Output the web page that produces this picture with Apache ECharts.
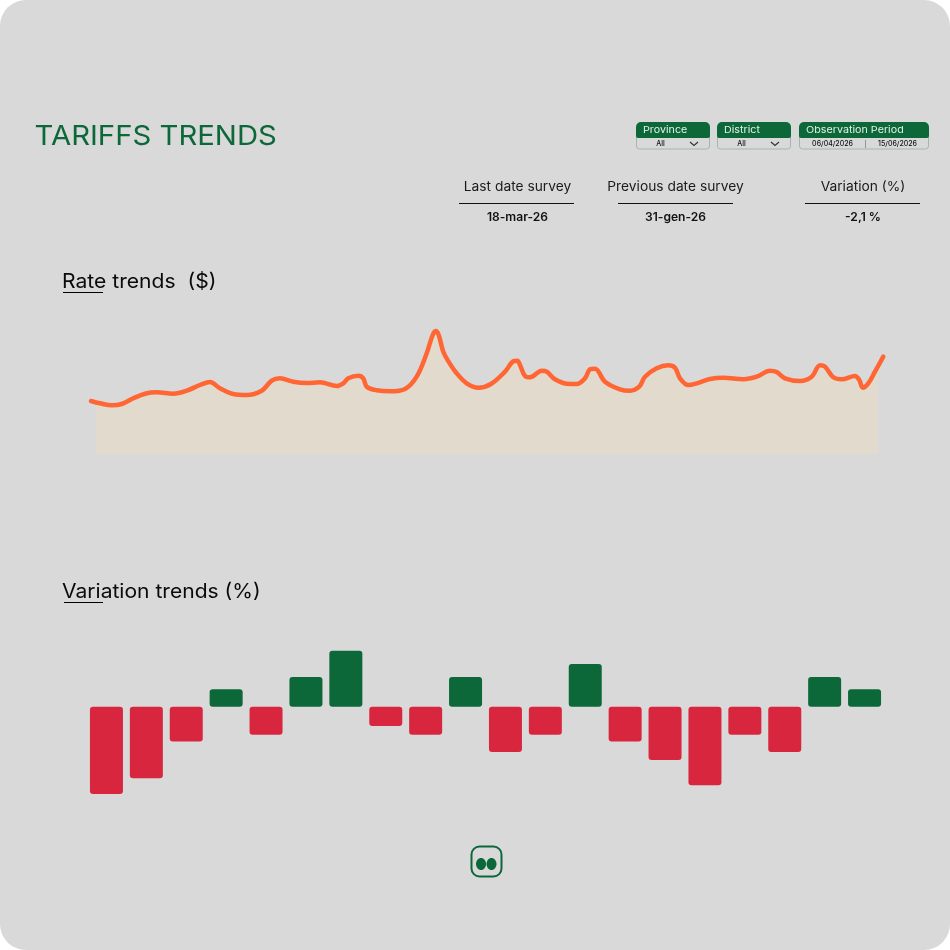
<!DOCTYPE html>
<html>
<head>
<meta charset="utf-8">
<style>html,body{margin:0;padding:0;background:#fff}#chart{width:950px;height:950px}</style>
<script src="https://cdn.jsdelivr.net/npm/echarts@6/dist/echarts.min.js"></script>
</head>
<body>
<div id="chart"></div>
<script>
// Rate trend: position along the time axis, and level above the baseline
const ratePositions = [1,10,22,31.7,43.3,55,66.7,83.3,96.7,110,120,130,143.3,156.7,171.7,181.7,190,203.3,216.7,230,246.7,253.3,258.3,268.3,273.3,276.7,286.7,300,315,326.7,336.7,342.7,346,348.7,353.3,358,366,376.7,388.3,401,415,423.3,427.3,430.7,435,440,451.7,456.7,465,476.7,486.7,495,500,505,515,530,540,549.3,555,566.7,578.3,585,590,598.3,606.7,620,633.3,653.3,666.7,680,686.7,695,710,721.7,730,735,743.3,751.7,765,769.3,772.7,778.3,785,793.3];
const rateLevels = [53,50.7,48.7,50,55.7,60.3,61.7,60.3,63.3,69,72,65.7,60,59,63.3,73.3,75.7,72.3,71,71.7,68,70.7,75.7,78.3,75.7,67.3,63.7,62.7,65,77.3,100.7,119,123,119,102.3,93.3,81.5,70.7,66.3,70,82.3,92.7,93.3,87.3,78,76.7,83.3,82.3,74.7,70.3,70,75.7,84.7,85.3,72.3,64.7,63.3,67.3,77.3,85.7,88.7,86.3,75.7,69,70.7,75,76.3,74.7,77.3,83.3,82,75.7,73,77.3,88.7,87.3,76.7,74.7,78,74,66.3,70.7,82.3,97.3];
// Variation trend (%) by period
const periods = ['1','2','3','4','5','6','7','8','9','10','11','12','13','14','15','16','17','18','19','20'];
const variations = [-10,-8.2,-4,2,-3.2,3.4,6.4,-2.2,-3.2,3.4,-5.2,-3.2,4.9,-4,-6.1,-9,-3.2,-5.2,3.4,2];
// Page text
const pageTitle = 'TARIFFS TRENDS';
const rateTitle = 'Rate trends  ($)';
const variationTitle = 'Variation trends (%)';
const stats = [['Last date survey','18-mar-26'],['Previous date survey','31-gen-26'],['Variation (%)','-2,1 %']];

const GREEN='#0c6839', RED='#d9263f', ORANGE='#ff6633', SAND='#e2dacc', BG='#d9d9d9', FONT='Inter, "Noto Sans", sans-serif';
const ratePairs = ratePositions.map((p,i)=>[p,rateLevels[i]]);
const t=(text,x,y,size,fill,weight,align,sx)=>({type:'text',z:5,x,y,scaleX:sx||1,style:{text,fontFamily:FONT,fontSize:size,fontWeight:weight||400,fill,align:align||'left',verticalAlign:'middle'}});
const r=(x,y,width,height,rad,style,z)=>({type:'rect',z:z==null?4:z,shape:{x,y,width,height,r:rad},style});
const ln=(x1,y1,x2,y2,stroke,w)=>({type:'line',z:5,shape:{x1,y1,x2,y2},style:{stroke,lineWidth:w||1}});
const pill=(x,w,label)=>[
  r(x+.5,130,w-1,19,3,{fill:'none',stroke:'#a3b8ad',lineWidth:1}),
  r(x,122,w,16,[5,5,2,2],{fill:GREEN},5),
  t(label,x+7,130,9.5,'#e6efe9',400,'left',1.13)];
const chev=x=>({type:'polyline',z:5,shape:{points:[[x-4,142],[x,145.5],[x+4,142]]},style:{stroke:'#333',lineWidth:1.2,fill:'none'}});
const graphics=[
  r(0,0,950,950,26,{fill:BG},-10),
  t(pageTitle,34.5,137,27,GREEN,400,'left',1.085),
  ...pill(636,74,'Province'),t('All',660.5,144,7,'#111',500,'center'),chev(694),
  ...pill(717,74,'District'),t('All',741.5,144,7,'#111',500,'center'),chev(775),
  ...pill(799,130,'Observation Period'),t('06/04/2026',832.5,144,7,'#111',500,'center'),t('15/06/2026',897.5,144,7,'#111',500,'center'),ln(865.5,140,865.5,148,'#8a9a90',1),
  t(rateTitle,62,281.5,20,'#0a0a0a',400,'left',1.055),ln(63,292.5,103,292.5,'#000',1),
  t(variationTitle,62,591.5,20,'#0a0a0a',400,'left',1.053),ln(64,602.5,103,602.5,'#000',1),
  {type:'rect',z:5,shape:{x:471.5,y:846.5,width:30,height:30,r:8},style:{fill:'none',stroke:GREEN,lineWidth:2}},
  {type:'ellipse',z:5,shape:{cx:481,cy:864,rx:5,ry:6},style:{fill:GREEN}},
  {type:'ellipse',z:5,shape:{cx:491.5,cy:864,rx:5,ry:6},style:{fill:GREEN}}
];
[[459,574,517.5],[618,733,675.5],[805,920,863]].forEach((c,i)=>{
  graphics.push(t(stats[i][0],c[2],187,13,'#1a1a1a',400,'center',1.06));
  graphics.push(ln(c[0],203.5,c[1],203.5,'#111',1));
  graphics.push(t(stats[i][1],c[2],217.5,11.5,'#111',600,'center',1.05));
});
const hiddenAxis={show:false};
const chart=echarts.init(document.getElementById('chart'),null,{renderer:'canvas'});
chart.setOption({
  backgroundColor:'#fff',
  animation:false,
  graphic:{elements:graphics},
  grid:[
    {left:90,top:320,width:794,height:134},
    {left:96,top:320,width:782,height:134},
    {left:86.5,top:645.6,width:798,height:148.4}
  ],
  xAxis:[
    {...hiddenAxis,type:'value',gridIndex:0,min:0,max:794},
    {...hiddenAxis,type:'value',gridIndex:1,min:6,max:788},
    {...hiddenAxis,type:'category',gridIndex:2,data:periods}
  ],
  yAxis:[
    {...hiddenAxis,type:'value',gridIndex:0,min:0,max:134},
    {...hiddenAxis,type:'value',gridIndex:1,min:0,max:134},
    {...hiddenAxis,type:'value',gridIndex:2,min:-10,max:7}
  ],
  series:[
    {type:'line',xAxisIndex:1,yAxisIndex:1,data:ratePairs,smooth:0.35,showSymbol:false,symbol:'none',clip:true,z:2,
      lineStyle:{width:0,opacity:0},areaStyle:{color:SAND,opacity:1}},
    {type:'line',xAxisIndex:0,yAxisIndex:0,data:ratePairs,smooth:0.35,showSymbol:false,symbol:'none',clip:false,z:3,
      lineStyle:{color:ORANGE,width:4.5,cap:'round',join:'round'}},
    {type:'bar',xAxisIndex:2,yAxisIndex:2,data:variations,barWidth:33,
      itemStyle:{borderRadius:3,color:p=>p.value<0?RED:GREEN}}
  ]
});
</script>
</body>
</html>
